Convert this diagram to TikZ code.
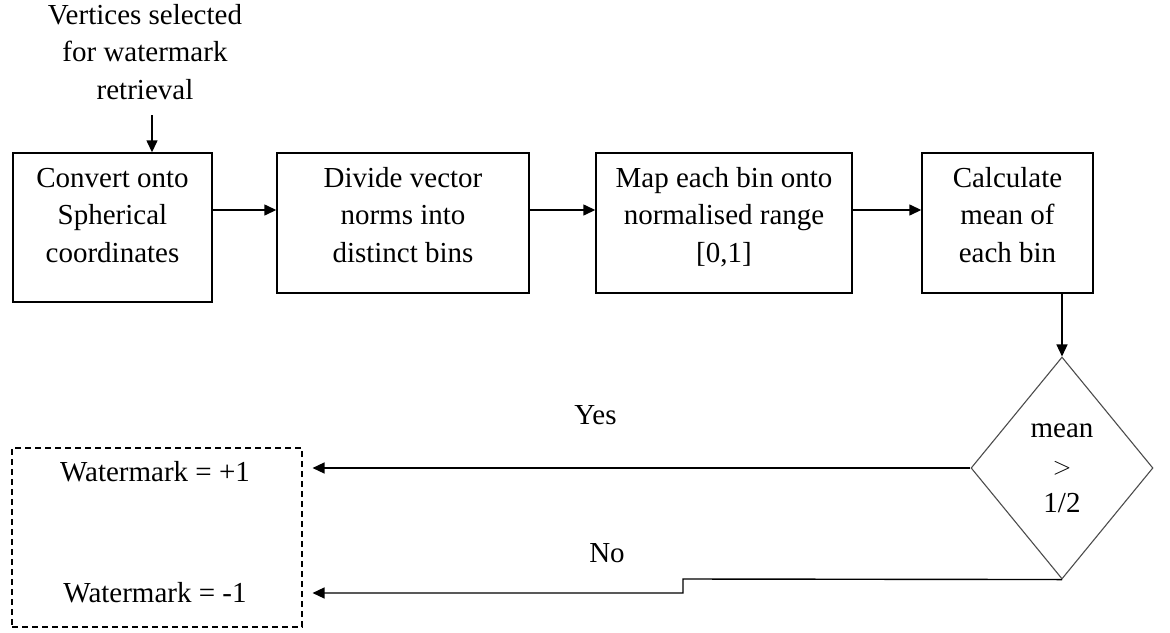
\documentclass[tikz,border=0pt]{standalone}
\usepackage{fontspec}
\setmainfont{Liberation Serif}
\usetikzlibrary{arrows.meta,shapes.geometric}
\begin{document}
\begin{tikzpicture}[x=1pt, y=-1pt, line width=1.4pt, line cap=butt, line join=miter,
		font=\fontsize{29}{37.5}\selectfont, >={Triangle[length=12pt,width=11pt]},
		stage/.style={draw, align=center, inner ysep=0pt, inner xsep=3pt, text height=109pt, text depth=31pt},
		choice/.style={draw=black!70, line width=1.1pt, diamond, inner sep=0pt, minimum width=182pt, minimum height=222pt, align=center},
		result/.style={draw, dashed, dash pattern=on 6pt off 4pt, line width=1.1pt, minimum width=290pt, minimum height=179pt}]
	\useasboundingbox (0,0) rectangle (1170,632);
	% input text
	\node[align=center] (sel) at (145,52) {Vertices selected\\for watermark\\retrieval};
	\coordinate (selfoot) at (152,115);
	\coordinate (row) at (0,210);
	% stages
	\node[stage, minimum width=199pt, text depth=40pt] (conv) at (112.5,227.5) {Convert onto\\Spherical\\coordinates};
	\node[stage, minimum width=252pt] (div) at (403,223) {Divide vector\\norms into\\distinct bins};
	\node[stage, minimum width=256pt] (map) at (724,223) {Map each bin onto\\normalised range\\{[0,1]}};
	\node[stage, minimum width=171pt] (calc) at (1007.5,223) {Calculate\\mean of\\each bin};
	\node[choice] (dec) at (1062,468) {mean\\$>$\\1/2};
	% outcome
	\node[result] (out) at (157,537.5) {};
	\node (plus) at (155,472) {Watermark = +1};
	\node (minus) at (155,593) {Watermark = -1};
	\coordinate (jog) at (683,579);
	% arrows
	\draw[->] (selfoot) -- (selfoot |- conv.north);
	\draw[->] (conv.east |- row) -- (div.west |- row);
	\draw[->] (div.east |- row) -- (map.west |- row);
	\draw[->] (map.east |- row) -- (calc.west |- row);
	\draw[->] (dec.north |- calc.south) -- (dec.north);
	\draw[->] (dec.west) -- ([xshift=10pt]out.east |- dec.west) node[pos=.57, above=39pt] (yes) {Yes};
	\draw[->] (dec.south) -- (jog) -- (jog |- minus) -- ([xshift=10pt]out.east |- minus);
	\node (no) at (607,553) {No};
\end{tikzpicture}
\end{document}
